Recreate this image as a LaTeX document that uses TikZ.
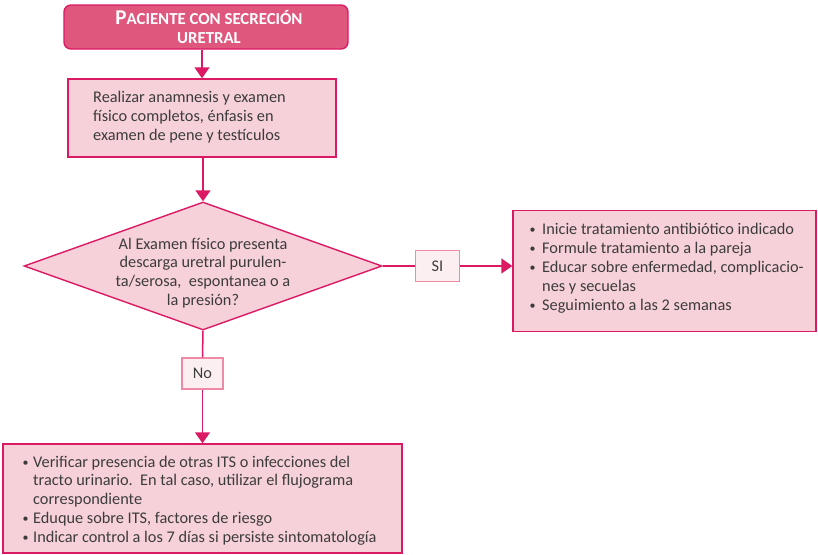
\documentclass[tikz,border=0pt]{standalone}
\usepackage{fontspec}
\setmainfont{Carlito}
\usetikzlibrary{shapes.geometric,arrows.meta}
\definecolor{mag}{HTML}{DC1A64}
\definecolor{boxfill}{HTML}{F7D1D9}
\definecolor{titlefill}{HTML}{E0577E}
\definecolor{lblfill}{HTML}{FCEFF2}
\definecolor{lbldraw}{HTML}{EE8AA6}
\definecolor{txt}{HTML}{3C3C3C}
\newcommand{\smallbul}{{\fontsize{12}{19}\selectfont\raisebox{0.6pt}{\textbullet}}}
\newcommand{\bul}{\makebox[13pt][l]{\hspace{0.5pt}\smallbul}}
\newcommand{\bulb}{\makebox[11pt][l]{\hspace{0.5pt}\smallbul}}
\newcommand{\topstrut}{\rule{0pt}{14pt}}
\newcommand{\ttlstrut}{\rule{0pt}{16pt}}
\begin{document}
\begin{tikzpicture}[x=1pt,y=-1pt,
  every node/.style={font=\fontsize{16.3}{19}\selectfont, text=txt},
  txtnode/.style={inner sep=0pt, align=left},
  pinkbox/.style={draw=mag, fill=boxfill, line width=1.4pt, inner sep=0pt},
  titlebox/.style={draw=mag, fill=titlefill, line width=1.4pt, rounded corners=7pt, inner sep=0pt},
  lbl/.style={draw=lbldraw, fill=lblfill, line width=1.2pt, inner sep=0pt},
  conn/.style={draw=mag, line width=1.5pt},
  arr/.style={conn, -{Triangle[width=15pt,length=11pt]}}]
\useasboundingbox (0,0) rectangle (818,554);

\node[titlebox, minimum width=284pt, minimum height=44pt] (title) at (206,27) {};
\node[text=white, inner sep=0pt, align=center, anchor=north,
      font=\bfseries\fontsize{16.8}{19}\selectfont] (titletxt) at (209,8)
  {\ttlstrut{\fontsize{21}{19}\selectfont P}ACIENTE CON SECRECIÓN\\URETRAL};

\node[pinkbox, minimum width=268pt, minimum height=78pt] (exam) at (202,118) {};
\node[txtnode, anchor=north west] (examtxt) at (93,88)
  {\topstrut Realizar anamnesis y examen\\físico completos, énfasis en\\examen de pene y testículos};

\node[diamond, draw=mag, fill=boxfill, line width=1.4pt, inner sep=0pt,
      minimum width=358pt, minimum height=128pt, aspect=2.8] (q) at (203,266) {};
\node[txtnode, align=center, anchor=north, font=\fontsize{16.3}{18.7}\selectfont] (qtxt) at (203,235)
  {\topstrut Al Examen físico presenta\\descarga uretral purulen-\\ta/serosa,\ \ espontanea o a\\la presión?};

\node[lbl, minimum width=44pt, minimum height=31pt] (si) at (437.5,266) {SI};

\node[pinkbox, minimum width=303pt, minimum height=121pt] (rbox) at (664.5,271) {};
\node[txtnode, anchor=north west] (rtxt) at (529,220)
  {\topstrut\bul Inicie tratamiento antibiótico indicado\\
   \bul Formule tratamiento a la pareja\\
   \bul Educar sobre enfermedad, complicacio-\\
   \hspace*{13pt}nes y secuelas\\
   \bul Seguimiento a las 2 semanas};

\node[lbl, minimum width=41pt, minimum height=31pt] (no) at (202.5,373.5) {No};

\node[pinkbox, minimum width=399pt, minimum height=109pt] (bbox) at (202.5,498.5) {};
\node[txtnode, anchor=north west, font=\fontsize{16.3}{18.75}\selectfont] (btxt) at (22,453)
  {\topstrut\bulb Verificar presencia de otras ITS o infecciones del\\
   \hspace*{11pt}tracto urinario.\ \ En tal caso, utilizar el flujograma\\
   \hspace*{11pt}correspondiente\\
   \bulb Eduque sobre ITS, factores de riesgo\\
   \bulb Indicar control a los 7 días si persiste sintomatología};

\draw[arr] (title.south -| exam.north) -- (exam.north);
\draw[arr] (exam.south -| q.north) -- (q.north);
\draw[conn] (q.east) -- (si.west);
\draw[arr] (si.east) -- (si.east -| rbox.west);
\draw[conn] (q.south) -- (no.north);
\draw[arr] (no.south) -- (no.south |- bbox.north);
\end{tikzpicture}
\end{document}
